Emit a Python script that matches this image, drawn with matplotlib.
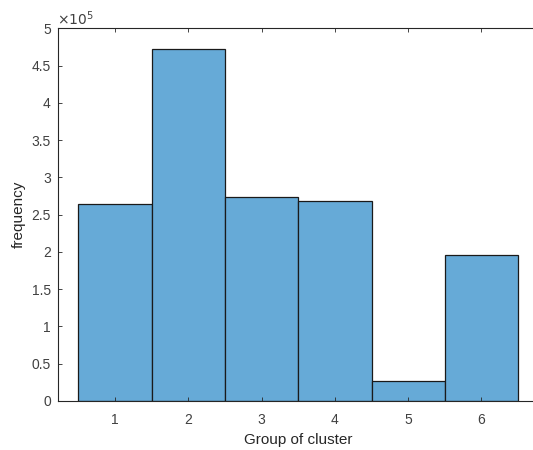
import matplotlib
matplotlib.use("Agg")
import matplotlib.pyplot as plt
import numpy as np

groups = [1, 2, 3, 4, 5, 6]
frequency = [263800, 472500, 274200, 268000, 26400, 195600]
xticks = [1, 2, 3, 4, 5, 6]
yticks = [0, 0.5e5, 1e5, 1.5e5, 2e5, 2.5e5, 3e5, 3.5e5, 4e5, 4.5e5, 5e5]
ytick_labels = ["0", "0.5", "1", "1.5", "2", "2.5", "3", "3.5", "4", "4.5", "5"]

plt.rcParams['font.family'] = ['Liberation Sans', 'DejaVu Sans']
axc = '#262626'
tc = '#404040'

fig = plt.figure(figsize=(5.33, 4.5), dpi=100)
left_px, right_px = 57.7, 539.0
ax = fig.add_axes([left_px/533, 1-401/450, (right_px-left_px)/533, (401-28.3)/450])

ax.bar(groups, frequency, width=1.0, color=(0.4, 0.668, 0.845),
       edgecolor='#1a1a1a', linewidth=0.9)

px_per_unit = 73.3
xl = 1 - (115 - left_px)/px_per_unit
ax.set_xlim(xl, xl + (right_px-left_px)/px_per_unit)
ax.set_ylim(0, 5e5)
ax.set_xticks(xticks)
ax.set_xticklabels([str(t) for t in xticks])
ax.set_yticks(yticks)
ax.set_yticklabels(ytick_labels)
ax.tick_params(direction='in', length=3, width=0.6, colors=axc,
               labelcolor=tc, labelsize=10, top=True, right=True)
ax.tick_params(axis='x', pad=9)
ax.tick_params(axis='y', pad=5)
for s in ax.spines.values():
    s.set_color(axc)
    s.set_linewidth(0.8)

ax.set_xlabel('Group of cluster', fontsize=11, color=axc, labelpad=4)
ax.set_ylabel('frequency', fontsize=11, color=axc, labelpad=4)

fig.text(57/533, 1-19/450, r'$\times 10^{5}$', fontsize=10, color=tc,
         ha='left', va='center', math_fontfamily='dejavusans')

fig.savefig('out.png', dpi=100)
